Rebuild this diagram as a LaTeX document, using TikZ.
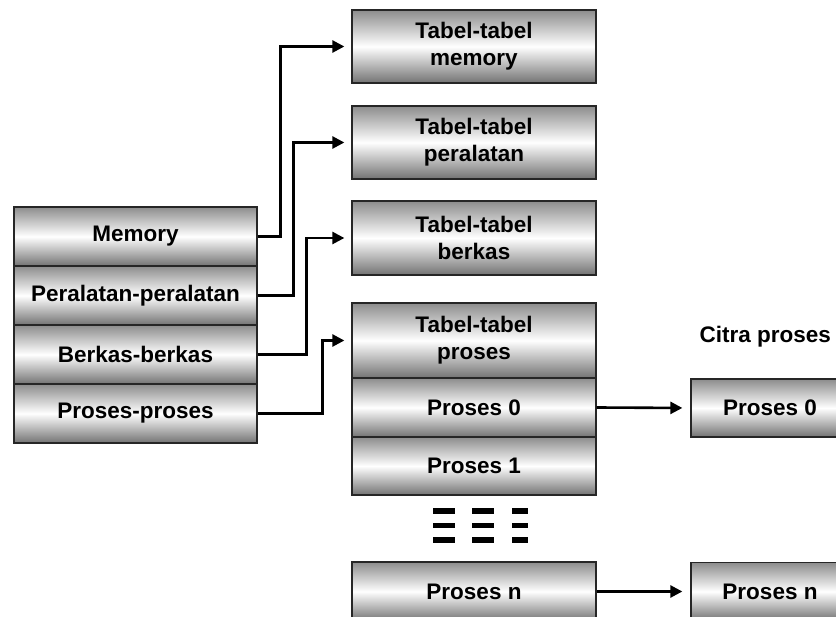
\documentclass[tikz,border=0pt]{standalone}
\usepackage{fontspec}
\setmainfont{Liberation Sans}
\usetikzlibrary{arrows.meta}
\begin{document}
\begin{tikzpicture}[x=1pt,y=-1pt,
  label font/.style={font=\fontsize{22.5}{27}\selectfont\bfseries},
  cell/.style={draw=black!85, line width=1.3pt, rectangle, inner sep=0pt,
    top color=black!45, bottom color=black!55, middle color=white,
    label font, align=center},
  leftcell/.style={cell, minimum width=243pt, minimum height=59pt},
  tablecell/.style={cell, minimum width=244pt},
  imagecell/.style={cell, minimum width=158pt, minimum height=58pt},
  link/.style={line width=2.6pt, -{Triangle[length=12pt,width=12pt]}, shorten >=7pt},
  dots/.style={fill=black, draw=none}]
\useasboundingbox (0,0) rectangle (836,617);
\clip (0,0) rectangle (836,617);

% process control block fields
\node[leftcell] (mem)  at (135.5,236.5) {Memory};
\node[leftcell] (dev)  at (135.5,295.5) {Peralatan-peralatan};
\node[leftcell] (file) at (135.5,354.5) {Berkas-berkas};
\node[leftcell] (proc) at (135.5,413.5) {Proses-proses};

% OS tables
\node[tablecell, minimum height=73pt] (tmem)  at (474,46.5)  {Tabel-tabel\\memory};
\node[tablecell, minimum height=73pt] (tdev)  at (474,142.5) {Tabel-tabel\\peralatan};
\node[tablecell, minimum height=74pt] (tfile) at (474,238)   {Tabel-tabel\\berkas};
\node[tablecell, minimum height=75pt] (tproc) at (474,340.5) {Tabel-tabel\\proses};
\node[tablecell, minimum height=59pt] (p0)    at (474,407.5) {Proses 0};
\node[tablecell, minimum height=58pt] (p1)    at (474,466)   {Proses 1};
\node[tablecell, minimum height=59pt] (pn)    at (474,591.5) {Proses n};

% ellipsis between Proses 1 and Proses n
\foreach \xa/\xb in {433/455, 472/494, 512/528}
  \foreach \yy in {511, 525.5, 540}
    \fill[dots] (\xa,\yy-2.6) rectangle (\xb,\yy+2.6);

% process images
\node[label font, anchor=west] (citra) at (696,337) {Citra proses};
\node[imagecell] (i0) at (770,408)   {Proses 0};
\node[imagecell] (in) at (770,591.5) {Proses n};

% connectors
\draw[link] (mem.east)  -- ++(23,0) |- (tmem.west);
\draw[link] (dev.east)  -- ++(36,0) |- (tdev.west);
\draw[link] (file.east) -- ++(49,0) |- (tfile.west);
\draw[link] (proc.east) -- ++(65,0) |- (tproc.west);
\draw[link, shorten >=8pt] (p0.east) -- (i0.west);
\draw[link, shorten >=8pt] (pn.east) -- (in.west);
\end{tikzpicture}
\end{document}
